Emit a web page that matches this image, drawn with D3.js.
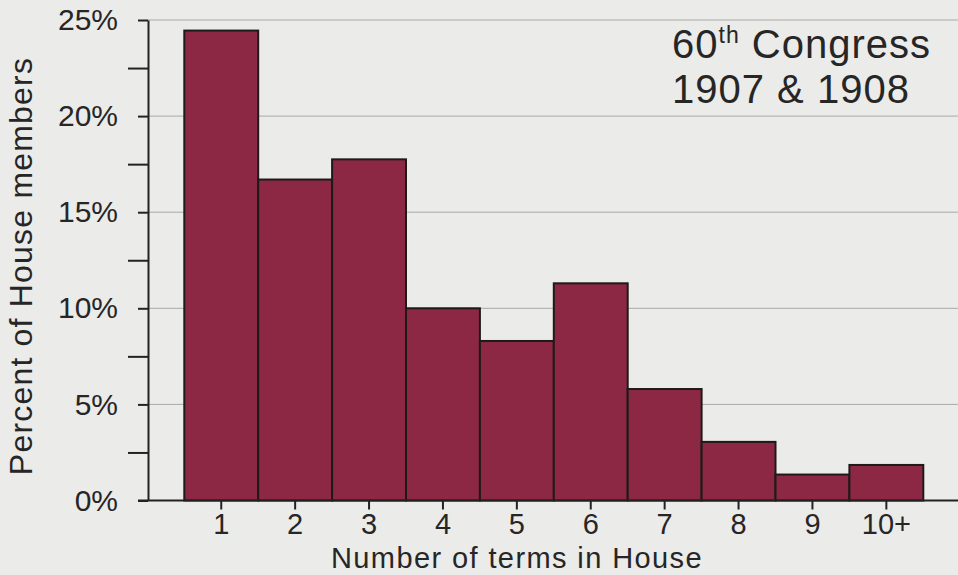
<!DOCTYPE html>
<html>
<head>
<meta charset="utf-8">
<script src="https://cdn.jsdelivr.net/npm/d3@7"></script>
<style>
  html, body { margin: 0; padding: 0; background: #ebebe9; }
  svg { display: block; }
  text { font-family: "Liberation Sans", Arial, Helvetica, sans-serif; fill: #262626; }
</style>
</head>
<body>
<svg id="chart" width="958" height="575"></svg>
<script>
// ---- data ----
const categories = ["1", "2", "3", "4", "5", "6", "7", "8", "9", "10+"];
const percentValues = [24.45, 16.7, 17.75, 10.0, 8.3, 11.3, 5.8, 3.05, 1.35, 1.85];
const yTickValues = [0, 5, 10, 15, 20, 25];
const yMinorTickValues = [2.5, 7.5, 12.5, 17.5, 22.5];
const titleLine1 = ["60", "th", " Congress"];
const titleLine2 = "1907 & 1908";
const xTitle = "Number of terms in House";
const yTitle = "Percent of House members";

// ---- layout ----
const axisX = 148, plotRight = 958;
const svg = d3.select("#chart");

const x = d3.scaleBand().domain(categories).range([184.3, 923.3]).padding(0);
const y = d3.scaleLinear().domain([0, 25]).range([500.5, 20]);

// gridlines
svg.append("g").selectAll("line").data(yTickValues.filter(d => d > 0)).join("line")
  .attr("x1", axisX).attr("x2", plotRight)
  .attr("y1", d => y(d)).attr("y2", d => y(d))
  .attr("stroke", "#a9a9a7").attr("stroke-width", 1);

// bars
svg.append("g").selectAll("rect").data(percentValues).join("rect")
  .attr("x", (d, i) => x(categories[i]))
  .attr("y", d => y(d))
  .attr("width", x.bandwidth())
  .attr("height", d => y(0) - y(d))
  .attr("fill", "#8c2843")
  .attr("stroke", "#1e1a1a")
  .attr("stroke-width", 2);

// y axis major
const yAxis = d3.axisLeft(y).tickValues(yTickValues).tickSizeInner(10).tickSizeOuter(0)
  .tickPadding(20).tickFormat(d => d + "%");
const gy = svg.append("g").attr("transform", `translate(${axisX},0)`).call(yAxis);
gy.select(".domain").attr("stroke", "#222").attr("stroke-width", 2);
gy.selectAll(".tick line").attr("stroke", "#222").attr("stroke-width", 2);
gy.selectAll(".tick text").attr("font-size", 30).attr("fill", "#262626")
  .style("font-family", '"Liberation Sans", Arial, sans-serif');

// y axis minor
const yMinor = d3.axisLeft(y).tickValues(yMinorTickValues).tickSizeInner(20).tickSizeOuter(0).tickFormat("");
const gym = svg.append("g").attr("transform", `translate(${axisX},0)`).call(yMinor);
gym.select(".domain").remove();
gym.selectAll(".tick line").attr("stroke", "#222").attr("stroke-width", 2);

// x axis
const xAxis = d3.axisBottom(x).tickSizeInner(9).tickSizeOuter(0).tickPadding(4);
const gx = svg.append("g").attr("transform", `translate(0,${y(0)})`).call(xAxis);
gx.select(".domain").remove();
gx.selectAll(".tick line").attr("stroke", "#222").attr("stroke-width", 2);
gx.selectAll(".tick text").attr("font-size", 29).attr("fill", "#262626")
  .style("font-family", '"Liberation Sans", Arial, sans-serif');
svg.append("line")
  .attr("x1", axisX - 10).attr("x2", plotRight)
  .attr("y1", y(0)).attr("y2", y(0))
  .attr("stroke", "#222").attr("stroke-width", 2);

// axis titles
svg.append("text")
  .attr("x", 517).attr("y", 568)
  .attr("text-anchor", "middle")
  .attr("font-size", 29)
  .attr("letter-spacing", 1.4)
  .text(xTitle);

svg.append("text")
  .attr("transform", `translate(32,266) rotate(-90)`)
  .attr("text-anchor", "middle")
  .attr("font-size", 32)
  .attr("letter-spacing", 1.2)
  .text(yTitle);

// title
const t1 = svg.append("text").attr("x", 672).attr("y", 58).attr("font-size", 40).attr("letter-spacing", 1);
t1.append("tspan").text(titleLine1[0]);
t1.append("tspan").attr("font-size", 23).attr("dy", -15).text(titleLine1[1]);
t1.append("tspan").attr("dy", 15).text(titleLine1[2]);
svg.append("text").attr("x", 672).attr("y", 103).attr("font-size", 40).attr("letter-spacing", 1).text(titleLine2);
</script>
</body>
</html>
